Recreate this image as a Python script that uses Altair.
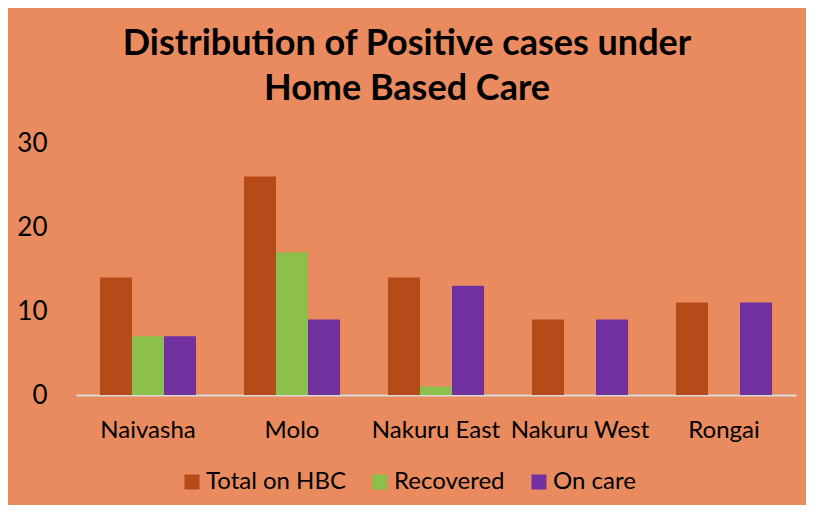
import altair as alt
import pandas as pd

regions = ["Naivasha", "Molo", "Nakuru East", "Nakuru West", "Rongai"]
series = ["Total on HBC", "Recovered", "On care"]
total_on_hbc = [14, 26, 14, 9, 11]
recovered = [7, 17, 1, 0, 0]
on_care = [7, 9, 13, 9, 11]
colors = ["#B64A18", "#8CC04A", "#7131A1"]
y_ticks = [0, 10, 20, 30]

rows = []
for i, r in enumerate(regions):
    for s, vals in zip(series, [total_on_hbc, recovered, on_care]):
        rows.append({"Region": r, "Series": s, "Value": vals[i]})
df = pd.DataFrame(rows)

FONT = "Lato, sans-serif"
BG = "#E98A5F"

chart = alt.Chart(df).mark_bar().encode(
    x=alt.X("Region:N", sort=regions, title=None,
            scale=alt.Scale(paddingInner=0.333, paddingOuter=0.1665),
            axis=alt.Axis(labelAngle=0, labelFontSize=24, labelFont=FONT, labelColor="#000000",
                          labelPadding=23, ticks=False, domainColor="#D9D9D9", domainWidth=2)),
    xOffset=alt.XOffset("Series:N", sort=series),
    y=alt.Y("Value:Q", title=None,
            scale=alt.Scale(domain=[0, 30], nice=False),
            axis=alt.Axis(values=y_ticks, grid=False, domain=False, ticks=False,
                          labelFontSize=26, labelFont=FONT, labelColor="#000000", labelPadding=29)),
    color=alt.Color("Series:N", sort=series,
                    scale=alt.Scale(domain=series, range=colors),
                    legend=alt.Legend(title=None, orient="none", direction="horizontal",
                                      legendX=104, legendY=327, symbolType="square",
                                      symbolSize=225, symbolStrokeWidth=0,
                                      labelFontSize=24, labelFont=FONT, labelColor="#000000",
                                      labelOffset=2, columnPadding=22, padding=0)),
).properties(
    width=720,
    height=252,
    title=alt.TitleParams(
        text=["Distribution of Positive cases under", "Home Based Care"],
        fontSize=36, font=FONT, fontWeight="bold", color="#000000",
        anchor="middle", dx=-29, offset=22, lineHeight=45,
    ),
    background=BG,
    padding={"left": 68, "top": 135, "right": 10, "bottom": 110},
    autosize=alt.AutoSizeParams(type="none"),
).configure_view(stroke=None)

chart.save("out.html", embed_options={"renderer": "svg", "actions": False})
